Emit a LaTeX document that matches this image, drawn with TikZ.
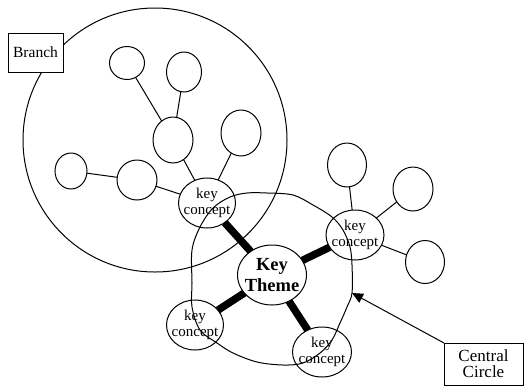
\documentclass[tikz,border=0pt]{standalone}
\usepackage{fontspec}
\setmainfont{Liberation Serif}
\usetikzlibrary{shapes.geometric,arrows.meta}
\begin{document}
\begin{tikzpicture}[x=1pt,y=-1pt,
  every node/.style={inner sep=0pt,outer sep=0pt},
  ell/.style={draw,ellipse,line width=1pt},
  lbox/.style={draw,rectangle,fill=white,line width=1pt},
  conn/.style={line width=1pt},
  thick conn/.style={line width=7.5pt},
  kc/.style={ell,inner sep=-12pt,align=center,font=\fontsize{15}{16}\selectfont},
  ]
\useasboundingbox (0,0) rectangle (529,386);
% branch circle
\node[draw,circle,line width=1pt,minimum size=264] (big) at (155,140) {};
\node[lbox,minimum width=55,minimum height=39,font=\fontsize{15.5}{15}\selectfont] (br) at (35.5,52.5) {Branch};
% small ellipses
\node[ell,minimum width=35,minimum height=33] (c1) at (127,63) {};
\node[ell,minimum width=35,minimum height=40] (c2) at (184,72) {};
\node[ell,minimum width=40,minimum height=46] (c3) at (173,140) {};
\node[ell,minimum width=40,minimum height=46] (c4) at (241,133) {};
\node[ell,minimum width=32,minimum height=36] (c5) at (71,171) {};
\node[ell,minimum width=40,minimum height=40] (c6) at (137,180) {};
\node[ell,minimum width=39,minimum height=44] (r1) at (347,165) {};
\node[ell,minimum width=40,minimum height=44] (r2) at (413,189) {};
\node[ell,minimum width=39,minimum height=43] (r3) at (425,262) {};
% key concepts
\node[kc,minimum width=57,minimum height=50] (k1) at (207,203) {key\\concept};
\node[kc,minimum width=58,minimum height=50] (k2) at (355,235) {key\\concept};
\node[kc,minimum width=57,minimum height=50] (k3) at (195,325) {key\\concept};
\node[kc,minimum width=59,minimum height=50] (k4) at (322,352) {key\\concept};
% key theme
\node[ell,inner sep=-14pt,align=center,font=\fontsize{18.5}{21}\selectfont\bfseries,minimum width=69,minimum height=60] (th) at (272,275) {Key\\Theme};
% connectors
\draw[conn] (c1) -- (c3);
\draw[conn] (c2) -- (c3);
\draw[conn] (c3) -- (k1);
\draw[conn] (c4) -- (k1);
\draw[conn] (c5) -- (c6);
\draw[conn] (c6) -- (k1);
\draw[conn] (r1) -- (k2);
\draw[conn] (r2) -- (k2);
\draw[conn] (r3) -- (k2);
\draw[thick conn] (k1) -- (th);
\draw[thick conn] (k2) -- (th);
\draw[thick conn] (k3) -- (th);
\draw[thick conn] (k4) -- (th);
% central circle loop
\coordinate (tip) at (352,293);
\draw[conn] plot[smooth cycle,tension=0.55] coordinates {
  (213,208) (230,197) (247,193) (267,193) (293,195) (313,205) (332,217)
  (343,230) (350,247) (352,265) (tip) (347,307) (340,323) (332,340)
  (320,353) (303,363) (283,365) (257,362) (233,353) (217,343) (200,330)
  (192,307) (192,283) (192,250) (200,227)};
% central circle label
\node[lbox,minimum width=79,minimum height=42,align=center,font=\fontsize{17}{16}\selectfont] (cc) at (483.5,364) {Central\\Circle};
\draw[conn,-{Triangle[length=11pt,width=10pt]}] (cc.north west) -- (tip);
\end{tikzpicture}
\end{document}
